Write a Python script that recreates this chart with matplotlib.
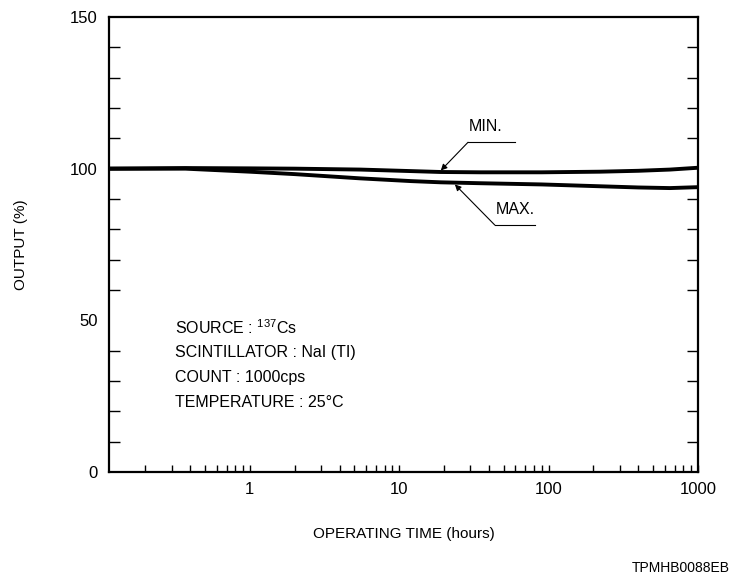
import matplotlib

matplotlib.use("Agg")
import matplotlib.pyplot as plt  # noqa: E402
from matplotlib.ticker import FixedLocator, NullFormatter  # noqa: E402

plt.rcParams["font.family"] = ["Liberation Sans", "DejaVu Sans"]
plt.rcParams["mathtext.fontset"] = "custom"
plt.rcParams["mathtext.rm"] = "Liberation Sans"

# operating time (hours) and relative output (%)
hours = [0.114, 0.37, 1, 2, 5.5, 12, 19, 35, 90, 220, 400, 650, 1000]
output_min = [100, 100.2, 100.1, 100.0, 99.7, 99.2, 98.9, 98.8, 98.8, 99.0, 99.3, 99.7, 100.3]
output_max = [100, 100.0, 99.0, 98.2, 96.8, 95.9, 95.5, 95.2, 94.8, 94.2, 93.8, 93.6, 93.9]

x_major = [1, 10, 100, 1000]
x_labels = ["1", "10", "100", "1000"]
y_major = [0, 50, 100, 150]

conditions = [
    "SOURCE : $^{\\mathrm{137}}$Cs",
    "SCINTILLATOR : NaI (TI)",
    "COUNT : 1000cps",
    "TEMPERATURE : 25\u00b0C",
]

fig = plt.figure(figsize=(7.44, 5.82), dpi=100)
ax = fig.add_axes([0.1465, 0.189, 0.7915, 0.7818])

ax.plot(hours, output_min, color="black", linewidth=2.8, solid_capstyle="butt")
ax.plot(hours, output_max, color="black", linewidth=2.8, solid_capstyle="butt")

ax.set_xscale("log")
ax.set_xlim(0.114, 1000)
ax.set_ylim(0, 150)

ax.xaxis.set_major_locator(FixedLocator(x_major))
ax.set_xticklabels(x_labels)
minor_x = [m * d for d in (0.1, 1, 10, 100) for m in range(2, 10)]
ax.xaxis.set_minor_locator(FixedLocator(minor_x))
ax.xaxis.set_minor_formatter(NullFormatter())
ax.set_yticks(y_major)
ax.yaxis.set_minor_locator(FixedLocator([v for v in range(10, 150, 10) if v % 50]))

ax.tick_params(axis="x", which="both", direction="in", length=5, width=1,
               top=False, labelsize=12, pad=7)
ax.tick_params(axis="y", which="major", direction="in", length=0,
               left=True, right=True, labelsize=12, pad=8)
ax.tick_params(axis="y", which="minor", direction="in", length=8, width=1,
               left=True, right=True)
for side in ax.spines.values():
    side.set_linewidth(1.6)

ax.set_xlabel("OPERATING TIME (hours)", fontsize=11, labelpad=22)
ax.set_ylabel("OUTPUT (%)", fontsize=11, labelpad=30)

# MIN / MAX leader annotations
ax.plot([28.9, 59.6], [108.7, 108.7], color="black", linewidth=0.8)
ax.annotate("", xy=(19.0, 99.4), xytext=(28.9, 108.7),
            arrowprops=dict(arrowstyle="-|>", color="black", lw=0.8,
                            mutation_scale=9, shrinkA=0, shrinkB=0))
ax.text(29.3, 114.0, "MIN.", fontsize=11.5, ha="left", va="center")

ax.plot([43.7, 81.1], [81.4, 81.4], color="black", linewidth=0.8)
ax.annotate("", xy=(23.6, 94.8), xytext=(43.7, 81.4),
            arrowprops=dict(arrowstyle="-|>", color="black", lw=0.8,
                            mutation_scale=9, shrinkA=0, shrinkB=0))
ax.text(44.5, 86.7, "MAX.", fontsize=11.5, ha="left", va="center")

for i, line in enumerate(conditions):
    ax.text(0.315, 47.5 - i * 8.2, line, fontsize=11.5, ha="left", va="center")

fig.text(0.981, 0.024, "TPMHB0088EB", fontsize=10, ha="right", va="center")

fig.savefig("out.png", dpi=100)
